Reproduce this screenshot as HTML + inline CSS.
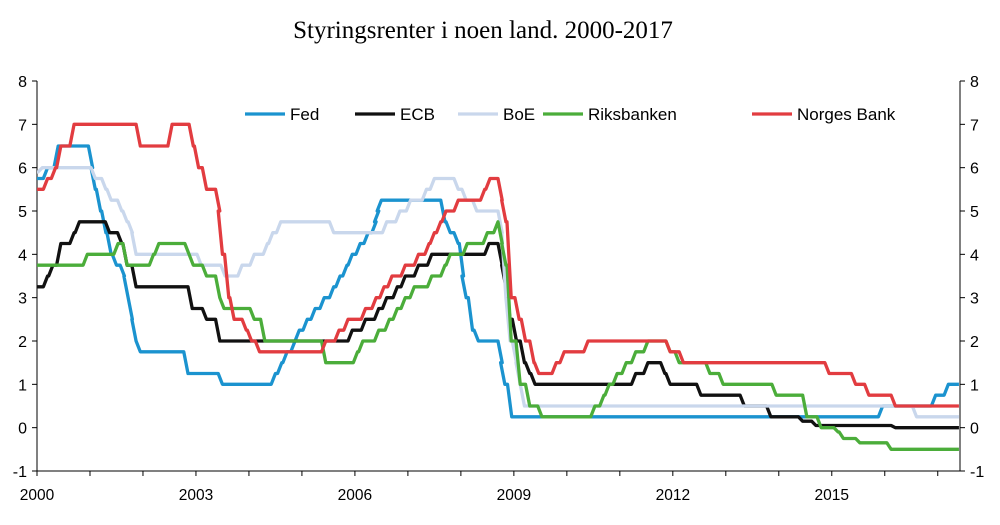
<!DOCTYPE html>
<html><head><meta charset="utf-8"><style>
body{margin:0;background:#fff;}
svg text{font-family:"Liberation Sans",sans-serif;}
</style></head><body>
<svg id="c" width="1000" height="520">
<text x="483" y="38" text-anchor="middle" font-size="25" style="font-family:'Liberation Serif',serif">Styringsrenter i noen land. 2000-2017</text>
<g id="axes"></g><g id="series"></g><g id="legend"></g>
</svg>
<script>
const yTicks=[-1,0,1,2,3,4,5,6,7,8];
const xTickYears=[2000,2003,2006,2009,2012,2015];
const seriesNames=["Fed","ECB","BoE","Riksbanken","Norges Bank"];
const fed=[[2000,5.75],[2000.2,6.0],[2000.4,6.5],[2001.05,6.0],[2001.1,5.5],[2001.2,5.0],[2001.3,4.5],[2001.4,4.0],[2001.5,3.75],[2001.65,3.5],[2001.72,3.0],[2001.8,2.5],[2001.87,2.0],[2001.95,1.75],[2002.85,1.25],[2003.5,1.0],[2004.5,1.25],[2004.62,1.5],[2004.72,1.75],[2004.87,2.0],[2004.95,2.25],[2005.1,2.5],[2005.25,2.75],[2005.42,3.0],[2005.6,3.25],[2005.72,3.5],[2005.85,3.75],[2005.95,4.0],[2006.1,4.25],[2006.25,4.5],[2006.4,4.75],[2006.45,5.0],[2006.5,5.25],[2007.7,4.75],[2007.8,4.5],[2007.95,4.25],[2008.05,3.5],[2008.1,3.0],[2008.22,2.25],[2008.33,2.0],[2008.78,1.5],[2008.83,1.0],[2008.96,0.25],[2015.96,0.5],[2016.96,0.75],[2017.2,1.0],[2017.4,1.0]];
const ecb=[[2000,3.25],[2000.2,3.5],[2000.3,3.75],[2000.45,4.25],[2000.7,4.5],[2000.8,4.75],[2001.37,4.5],[2001.6,4.25],[2001.7,3.75],[2001.87,3.25],[2002.93,2.75],[2003.2,2.5],[2003.45,2.0],[2005.95,2.25],[2006.2,2.5],[2006.45,2.75],[2006.6,3.0],[2006.8,3.25],[2006.95,3.5],[2007.2,3.75],[2007.45,4.0],[2008.53,4.25],[2008.78,3.75],[2008.85,3.25],[2008.93,2.5],[2009.05,2.0],[2009.2,1.5],[2009.3,1.25],[2009.4,1.0],[2011.3,1.25],[2011.53,1.5],[2011.85,1.25],[2011.95,1.0],[2012.53,0.75],[2013.35,0.5],[2013.85,0.25],[2014.45,0.15],[2014.7,0.05],[2016.2,0.0],[2017.4,0.0]];
const boe=[[2000,5.9],[2000.1,6.0],[2001.1,5.75],[2001.3,5.5],[2001.4,5.25],[2001.6,5.0],[2001.7,4.75],[2001.8,4.5],[2001.87,4.0],[2003.1,3.75],[2003.55,3.5],[2003.87,3.75],[2004.1,4.0],[2004.35,4.25],[2004.45,4.5],[2004.6,4.75],[2005.6,4.5],[2006.6,4.75],[2006.85,5.0],[2007.05,5.25],[2007.35,5.5],[2007.5,5.75],[2007.95,5.5],[2008.1,5.25],[2008.3,5.0],[2008.78,4.5],[2008.85,3.0],[2008.93,2.0],[2009.05,1.5],[2009.12,1.0],[2009.2,0.5],[2016.6,0.25],[2017.4,0.25]];
const riks=[[2000,3.75],[2000.1,3.75],[2000.95,4.0],[2001.53,4.25],[2001.7,3.75],[2002.2,4.0],[2002.3,4.25],[2002.87,4.0],[2002.95,3.75],[2003.2,3.5],[2003.45,3.0],[2003.53,2.75],[2004.1,2.5],[2004.3,2.0],[2005.45,1.5],[2006.05,1.75],[2006.15,2.0],[2006.45,2.25],[2006.65,2.5],[2006.8,2.75],[2006.95,3.0],[2007.12,3.25],[2007.45,3.5],[2007.7,3.75],[2007.8,4.0],[2008.12,4.25],[2008.5,4.5],[2008.7,4.75],[2008.78,4.25],[2008.85,3.75],[2008.95,2.0],[2009.12,1.0],[2009.3,0.5],[2009.53,0.25],[2010.53,0.5],[2010.7,0.75],[2010.8,1.0],[2010.95,1.25],[2011.12,1.5],[2011.3,1.75],[2011.53,2.0],[2011.95,1.75],[2012.12,1.5],[2012.7,1.25],[2012.95,1.0],[2013.95,0.75],[2014.53,0.25],[2014.8,0.0],[2015.12,-0.1],[2015.22,-0.25],[2015.53,-0.35],[2016.12,-0.5],[2017.4,-0.5]];
const norges=[[2000,5.5],[2000.2,5.75],[2000.35,6.0],[2000.45,6.5],[2000.7,7.0],[2001.95,6.5],[2002.55,7.0],[2002.95,6.5],[2003.05,6.0],[2003.2,5.5],[2003.45,5.0],[2003.5,4.0],[2003.62,3.0],[2003.72,2.5],[2003.95,2.25],[2004.05,2.0],[2004.2,1.75],[2005.45,2.0],[2005.7,2.25],[2005.87,2.5],[2006.2,2.75],[2006.4,3.0],[2006.55,3.25],[2006.7,3.5],[2006.95,3.75],[2007.2,4.0],[2007.4,4.25],[2007.5,4.5],[2007.62,4.75],[2007.72,5.0],[2007.95,5.25],[2008.45,5.5],[2008.55,5.75],[2008.78,5.25],[2008.85,4.75],[2008.95,3.0],[2009.1,2.5],[2009.22,2.0],[2009.38,1.5],[2009.47,1.25],[2009.8,1.5],[2009.95,1.75],[2010.4,2.0],[2011.95,1.75],[2012.2,1.5],[2014.95,1.25],[2015.45,1.0],[2015.7,0.75],[2016.2,0.5],[2017.4,0.5]];
const colors=["#1b93cf","#111111","#c9d7ec","#4bad3a","#e23c40"];
const allSeries=[fed,ecb,boe,riks,norges];
const X0=37,X1=960,T0=2000,T1=2017.42,Y0=471,Y1=81;
const xs=t=>X0+(t-T0)/(T1-T0)*(X1-X0);
const ys=v=>Y0+(v+1)/9*(Y1-Y0);
const NS="http://www.w3.org/2000/svg";
function mk(tag,attrs,parent){const e=document.createElementNS(NS,tag);for(const k in attrs)e.setAttribute(k,attrs[k]);parent.appendChild(e);return e;}
const ax=document.getElementById('axes');
let l=mk('line',{x1:X0,y1:Y1,x2:X0,y2:Y0,stroke:'#000','stroke-width':1},ax);


l=mk('line',{x1:X1,y1:Y1,x2:X1,y2:Y0,stroke:'#000','stroke-width':1},ax);


l=mk('line',{x1:X0,y1:Y0,x2:X1,y2:Y0,stroke:'#000','stroke-width':1},ax);


yTicks.forEach(v=>{const y=ys(v);
 mk('line',{x1:X0-5,y1:y,x2:X0,y2:y,stroke:'#000'},ax);
 mk('line',{x1:X1,y1:y,x2:X1+5,y2:y,stroke:'#000'},ax);
 let t=mk('text',{x:X0-10,y:y+6,'text-anchor':'end','font-size':16},ax);t.textContent=v;
 
 
 t=mk('text',{x:X1+10,y:y+6,'text-anchor':'start','font-size':16},ax);t.textContent=v;
 
 
});
for(let yr=2000;yr<=2017;yr++){const x=xs(yr);mk('line',{x1:x,y1:Y0,x2:x,y2:Y0+5,stroke:'#000'},ax);}
xTickYears.forEach(yr=>{const t=mk('text',{x:xs(yr),y:Y0+29,'text-anchor':'middle','font-size':15.5},ax);t.textContent=yr;
 
 });
const sg=document.getElementById('series');
allSeries.forEach((d,i)=>{const pts=[];
 d.forEach((p,j)=>{if(j>0){pts.push([xs(p[0]-0.08),ys(d[j-1][1])]);}pts.push([xs(p[0]),ys(p[1])]);});
 const pl=mk('polyline',{points:pts.map(p=>p.join(',')).join(' '),fill:'none',stroke:colors[i],'stroke-width':3.3,'stroke-linejoin':'round'},sg);
 
 
});
const lg=document.getElementById('legend');
const lx=[245,355,458,543,752];
seriesNames.forEach((n,i)=>{
 const g=mk('g',{},lg);
 
 
 mk('line',{x1:lx[i],y1:114,x2:lx[i]+40,y2:114,stroke:colors[i],'stroke-width':3.3},g);
 const t=mk('text',{x:lx[i]+45,y:120,'font-size':17},g);t.textContent=n;
});
</script>
</body></html>
